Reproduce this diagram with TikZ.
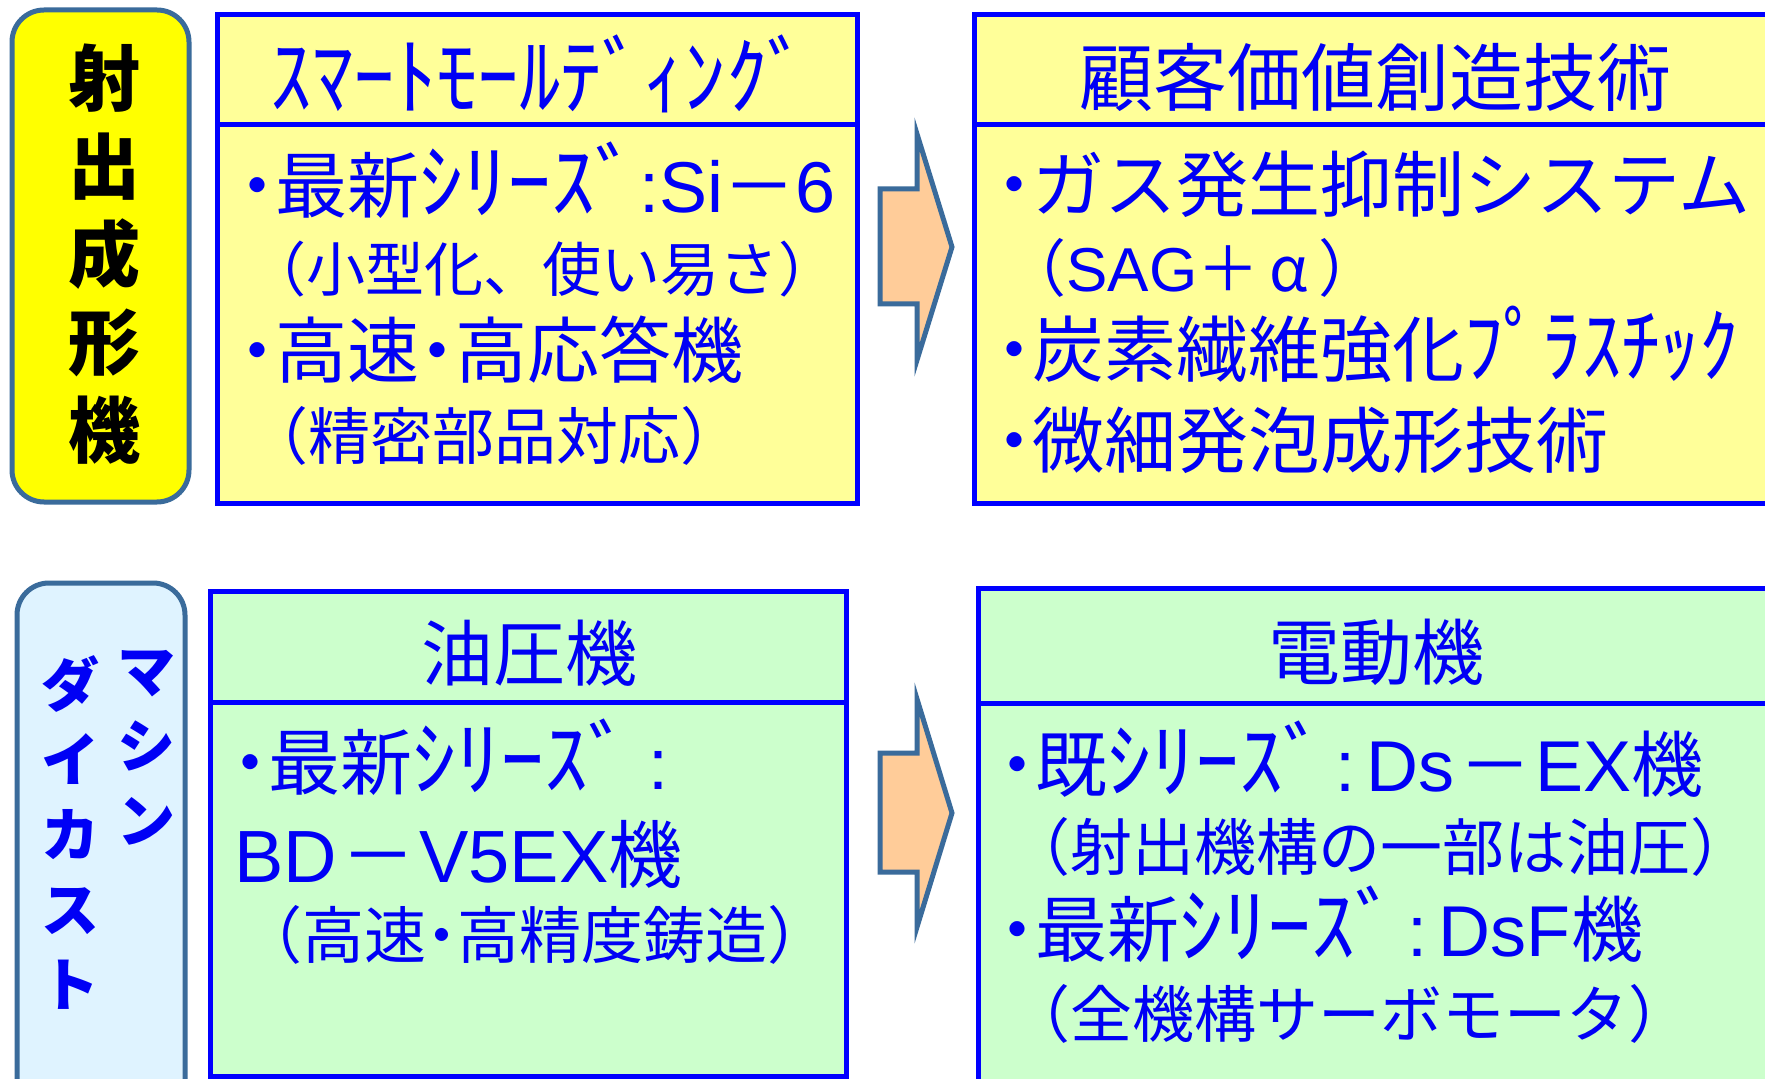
\documentclass[tikz,border=0pt]{standalone}
\usepackage{fontspec}
\newfontfamily\jp{Noto Sans CJK JP}
\newfontfamily\lat{Liberation Sans}
\newcommand\Lt[1]{{\lat #1}}
\newcommand\hw[2][1.22]{\scalebox{#1}[1.15]{#2}}
\newcommand\dt{{\bfseries ･}}
\newcommand\cln{\hspace{4pt}{\lat :}\hspace{6pt}}
\definecolor{edgeblue}{HTML}{0000FF}
\definecolor{txtblue}{HTML}{0000F5}
\definecolor{steel}{HTML}{3A6B9B}
\definecolor{paleyellow}{HTML}{FFFF99}
\definecolor{palegreen}{HTML}{CCFFCC}
\definecolor{paleblue}{HTML}{DFF3FF}
\definecolor{peach}{HTML}{FFCC99}
\definecolor{brightyellow}{HTML}{FFFF00}
\tikzset{
  panel/.style={draw=edgeblue, line width=2.5pt},
  labelbox/.style={draw=steel, line width=2.5pt, rounded corners=16pt},
  bigarrow/.style={draw=steel, fill=peach, line width=2.5pt},
  bodytxt/.style={inner sep=0pt, anchor=base west, text=txtblue, font=\jp\fontsize{36}{40}\selectfont},
  subtxt/.style={inner sep=0pt, anchor=base west, text=txtblue, font=\jp\fontsize{31}{36}\selectfont},
  headtxt/.style={inner sep=0pt, anchor=center, text=txtblue, font=\jp\fontsize{36}{40}\selectfont},
  vlabel/.style={inner sep=0pt, anchor=center, align=center, font=\jp\bfseries\fontsize{36}{44}\selectfont},
  vlabelb/.style={inner sep=0pt, anchor=north, align=center, text=txtblue, font=\jp\bfseries\fontsize{29}{37.5}\selectfont},
}
\begin{document}
\begin{tikzpicture}[x=0.5pt,y=-0.5pt]
\clip (0,0) rectangle (1765,1079);
\fill[white] (0,0) rectangle (1765,1079);

% ---- top row ----
\draw[labelbox, fill=brightyellow] (12,10) rectangle (189,502);
\node[vlabel] (lab1) at (104,254) {射\\出\\成\\形\\機};

\draw[panel, fill=paleyellow] (217,15) rectangle (857,503);
\draw[panel] (217,125) -- (857,125);
\node[headtxt, anchor=base] (h1) at (540,109) {\scalebox{1.15}[1.2]{ｽﾏｰﾄﾓｰﾙﾃﾞｨﾝｸﾞ}};
\node[bodytxt] (t11) at (239,213) {\dt 最新\hw{ｼﾘｰｽﾞ}\Lt{:Si}－\Lt{6}};
\node[subtxt, font=\jp\fontsize{29.5}{36}\selectfont] (t12) at (247,292) {（小型化、使い易さ）};
\node[bodytxt] (t13) at (239,378) {\dt 高速\dt 高応答機};
\node[subtxt] (t14) at (246,459) {（精密部品対応）};

\draw[bigarrow] (880,189) -- (917,189) -- (917,134) -- (952,247) -- (917,360) -- (917,304) -- (880,304) -- cycle;

\draw[panel, fill=paleyellow] (974,15) rectangle (1800,503);
\draw[panel] (974,125) -- (1800,125);
\node[headtxt, font=\jp\fontsize{37}{40}\selectfont] (h2) at (1375,77) {顧客価値創造技術};
\node[bodytxt] (t21) at (996,212) {\dt ガス発生抑制システム};
\node[subtxt] (t22) at (1004,292) {（\Lt{SAG}＋\,α\,）};
\node[bodytxt] (t23) at (996,377) {\dt 炭素繊維強化\hw[1.09]{ﾌﾟﾗｽﾁｯｸ}};
\node[bodytxt] (t24) at (996,467) {\dt 微細発泡成形技術};

% ---- bottom row ----
\draw[labelbox, fill=paleblue] (17,583) rectangle (185,1120);
\node[vlabelb] (lab2a) at (146,650) {マ\\シ\\ン};
\node[vlabelb] (lab2b) at (70,655) {ダ\\イ\\カ\\ス\\ト};

\draw[panel, fill=palegreen] (210,591) rectangle (846,1076);
\draw[panel] (210,702) -- (846,702);
\node[headtxt] (h3) at (529,653) {油圧機};
\node[bodytxt] (t31) at (232,789) {\dt 最新\hw{ｼﾘｰｽﾞ}\hspace{8pt}\Lt{:}};
\node[bodytxt, font=\jp\fontsize{37}{40}\selectfont] (t32) at (234,882) {\Lt{BD}\hspace{2pt}－\hspace{2pt}\Lt{V5EX}機};
\node[subtxt] (t33) at (240,958) {（高速\dt 高精度鋳造）};

\draw[bigarrow] (880,753) -- (917,753) -- (917,699) -- (952,813) -- (917,927) -- (917,872) -- (880,872) -- cycle;

\draw[panel, fill=palegreen] (978,588) rectangle (1800,1120);
\draw[panel] (978,703) -- (1800,703);
\node[headtxt] (h4) at (1376,652) {電動機};
\node[bodytxt] (t41) at (999,791) {\dt 既\hw{ｼﾘｰｽﾞ}\cln\Lt{Ds}\hspace{2pt}－\hspace{2pt}\Lt{EX}機};
\node[subtxt] (t42) at (1008,870) {（射出機構の一部は油圧）};
\node[bodytxt] (t43) at (999,956) {\dt 最新\hw{ｼﾘｰｽﾞ}\cln\Lt{DsF}機};
\node[subtxt] (t44) at (1008,1037) {（全機構サーボモータ）};
\end{tikzpicture}
\end{document}
